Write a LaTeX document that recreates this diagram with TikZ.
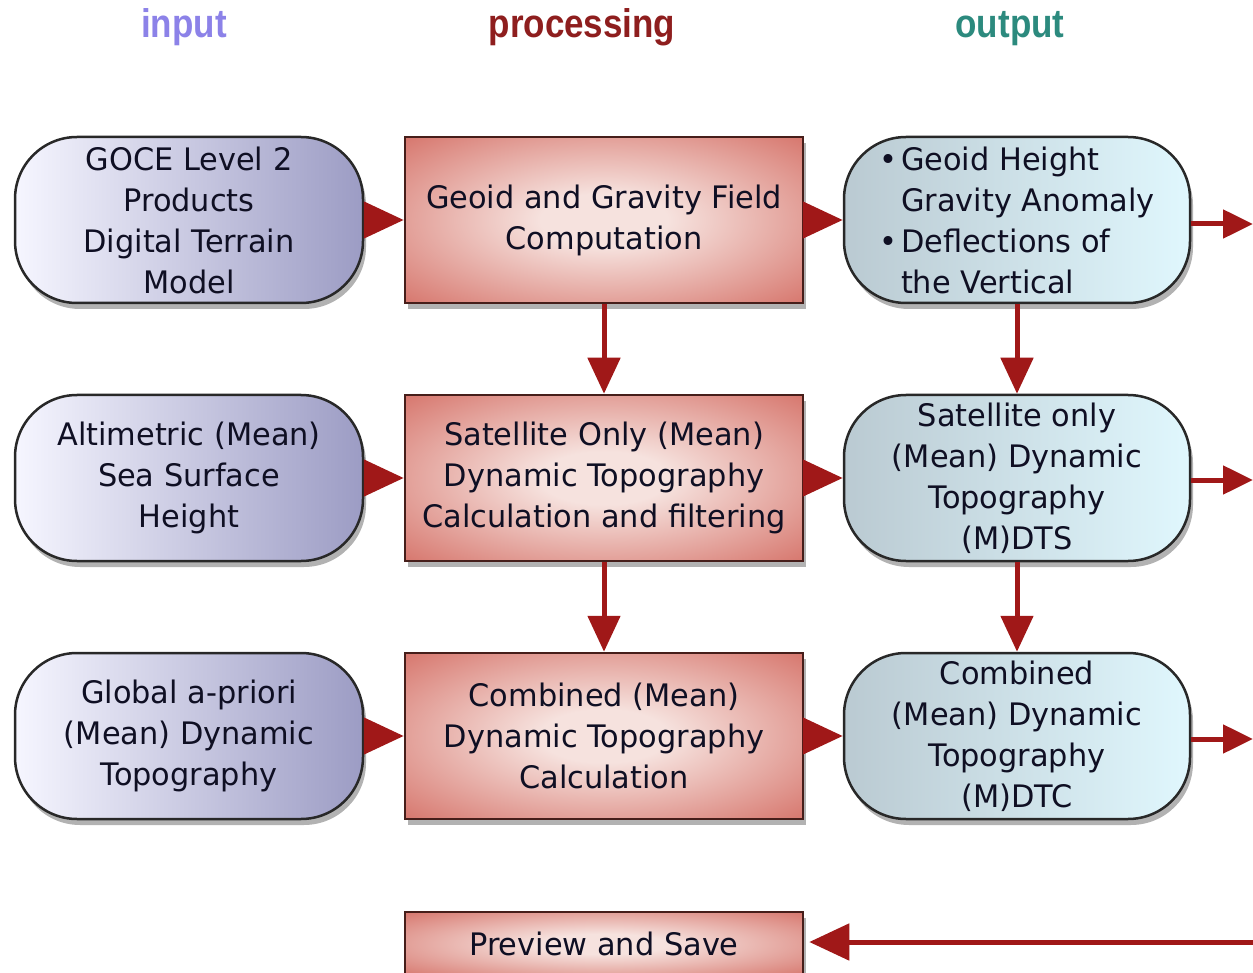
\documentclass[tikz,border=0pt]{standalone}
\usepackage{fontspec}
\setmainfont{DejaVu Sans}
\newfontfamily\bodyfont[FakeStretch=0.98]{DejaVu Sans}
\newfontfamily\headfont[FakeStretch=0.875]{Liberation Sans}
\usetikzlibrary{arrows.meta,shadows}

\definecolor{inA}{RGB}{246,246,255}
\definecolor{inB}{RGB}{156,156,196}
\definecolor{outA}{RGB}{186,202,210}
\definecolor{outB}{RGB}{224,247,253}
\definecolor{redC}{RGB}{246,226,222}
\definecolor{redE}{RGB}{198,62,50}
\definecolor{arrcol}{RGB}{160,24,24}
\definecolor{txtcol}{RGB}{15,15,35}
\definecolor{edgecol}{RGB}{40,40,40}
\definecolor{redline}{RGB}{70,30,26}
\definecolor{hin}{RGB}{140,130,232}
\definecolor{hproc}{RGB}{142,30,30}
\definecolor{hout}{RGB}{44,138,126}

\pgfdeclareradialshading{procshade}{\pgfpoint{0bp}{0bp}}{color(0bp)=(redC); color(8bp)=(redC); color(50bp)=(redE)}

\newcommand\bul{\makebox[22pt][l]{•}}
\newcommand\ind{\hspace*{22pt}}

\tikzset{
  bodytxt/.style={font=\bodyfont\fontsize{31}{41}\selectfont, text=txtcol, align=center, inner sep=0pt},
  boxshadow/.style={drop shadow={shadow xshift=3pt, shadow yshift=-6pt, opacity=0.3, fill=black}},
  inbox/.style={bodytxt, draw=edgecol, line width=2.5pt, rounded corners=62pt,
    minimum width=348pt, minimum height=166pt, left color=inA, right color=inB, boxshadow},
  outbox/.style={bodytxt, draw=edgecol, line width=2.5pt, rounded corners=62pt,
    minimum width=346pt, minimum height=166pt, left color=outA, right color=outB, boxshadow},
  procbox/.style={bodytxt, draw=redline, line width=2.5pt,
    minimum width=398pt, minimum height=166pt, shading=procshade, boxshadow},
  headtxt/.style={font=\headfont\bfseries\fontsize{40}{44}\selectfont, anchor=base},
  harrow/.style={draw=arrcol, line width=5pt, -{Triangle[length=40pt,width=36pt]}, color=arrcol},
  varrow/.style={draw=arrcol, line width=5pt, -{Triangle[length=36pt,width=32pt]}, color=arrcol},
  oarrow/.style={draw=arrcol, line width=5pt, -{Triangle[length=30pt,width=28pt]}, color=arrcol},
}

\begin{document}
\begin{tikzpicture}[x=1pt,y=-1pt]
\useasboundingbox (0,0) rectangle (1253,973);
\clip (0,0) rectangle (1253,973);

% headers
\node[headtxt, text=hin]   (hi) at (184,38) {input};
\node[headtxt, text=hproc] (hp) at (582,38) {processing};
\node[headtxt, text=hout]  (ho) at (1010,38) {output};

% row 1
\node[inbox]   (L1) at (189,220) {GOCE Level 2\\Products\\Digital Terrain\\Model};
\node[procbox] (M1) at (604,220) {Geoid and Gravity Field\\Computation};
\node[outbox, align=left]  (R1) at (1017,220) {\bul Geoid Height\\\ind Gravity Anomaly\\\bul Deflections of\\\ind the Vertical};

% row 2
\node[inbox]   (L2) at (189,478) {Altimetric (Mean)\\Sea Surface\\Height};
\node[procbox] (M2) at (604,478) {Satellite Only (Mean)\\Dynamic Topography\\Calculation and filtering};
\node[outbox]  (R2) at (1017,478) {Satellite only\\(Mean) Dynamic\\Topography\\(M)DTS};

% row 3
\node[inbox]   (L3) at (189,736) {Global a-priori\\(Mean) Dynamic\\Topography};
\node[procbox] (M3) at (604,736) {Combined (Mean)\\Dynamic Topography\\Calculation};
\node[outbox]  (R3) at (1017,736) {Combined\\(Mean) Dynamic\\Topography\\(M)DTC};

% bottom
\node[procbox, minimum height=64pt] (P) at (604,944) {Preview and Save};

% free ends
\coordinate (o1) at (1253,224);
\coordinate (o2) at (1253,480);
\coordinate (o3) at (1253,739);
\coordinate (ob) at (1253,942);

% connectors
\draw[harrow] (L1) -- (M1);
\draw[harrow] (L2) -- (M2);
\draw[harrow] (L3) -- (M3);
\draw[harrow] (M1) -- (R1);
\draw[harrow] (M2) -- (R2);
\draw[harrow] (M3) -- (R3);
\draw[varrow] (M1) -- (M2);
\draw[varrow] (M2) -- (M3);
\draw[varrow] (R1) -- (R2);
\draw[varrow] (R2) -- (R3);
\draw[oarrow] (R1.east |- o1) -- (o1);
\draw[oarrow] (R2.east |- o2) -- (o2);
\draw[oarrow] (R3.east |- o3) -- (o3);
\draw[harrow, shorten >=5pt] (ob) -- (P.east |- ob);
\end{tikzpicture}
\end{document}
